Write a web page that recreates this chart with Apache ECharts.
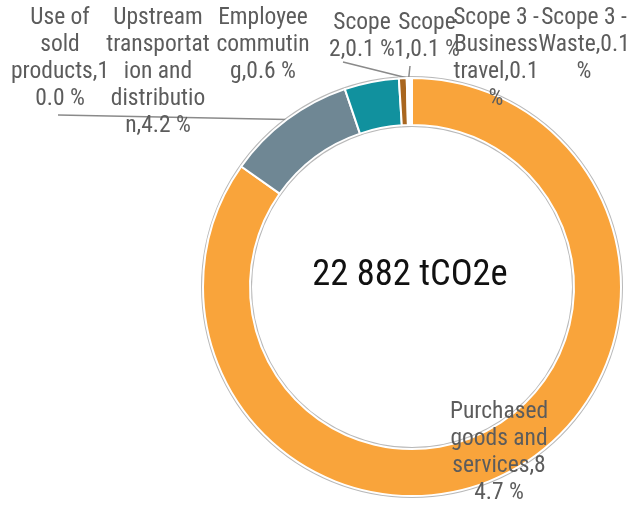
<!DOCTYPE html>
<html>
<head>
<meta charset="utf-8">
<script src="https://cdn.jsdelivr.net/npm/echarts@6/dist/echarts.min.js"></script>
<style>
  html, body { margin: 0; padding: 0; background: #fff; }
  #chart { width: 632px; height: 507px; }
</style>
</head>
<body>
<div id="chart"></div>
<script>
  // data
  const categories = [
    'Purchased goods and services',
    'Use of sold products',
    'Upstream transportation and distribution',
    'Employee commuting',
    'Scope 2',
    'Scope 1',
    'Scope 3 - Business travel',
    'Scope 3 - Waste'
  ];
  const shares = [84.7, 10.0, 4.2, 0.6, 0.1, 0.1, 0.1, 0.1];
  const totalText = '22 882 tCO2e';

  // styles
  const colors = ['#f9a43b', '#6f8794', '#11919e', '#a9661f', '#f3d9b0', '#f3d9b0', '#f3d9b0', '#f3d9b0'];
  const labelFont = "'Roboto Condensed', 'Liberation Sans Narrow', Roboto, sans-serif";
  const labelSize = 23.5;
  const wrapWidth = 104.5;

  // label placement: [centerX, top]
  const labelPos = [
    [499, 399], [60, 5], [158, 5], [263, 5], [362, 10], [427, 10], [496, 5], [584, 5]
  ];
  // label line end points (null = no line)
  const lineEnds = [null, [58, 115], null, null, [343, 62], [410, 66], null, null];

  const measureCtx = document.createElement('canvas').getContext('2d');
  measureCtx.font = labelSize + 'px ' + labelFont;
  const tw = s => measureCtx.measureText(s).width;

  // word wrap, breaking words that are too long on their own
  function wrap(text, maxW) {
    const words = text.split(' ');
    const lines = [];
    let line = '';
    words.forEach(w => {
      const cand = line ? line + ' ' + w : w;
      if (tw(cand) <= maxW) { line = cand; return; }
      if (line) lines.push(line);
      while (tw(w) > maxW) {
        let i = 1;
        while (i < w.length && tw(w.slice(0, i + 1)) <= maxW) i++;
        lines.push(w.slice(0, i));
        w = w.slice(i);
      }
      line = w;
    });
    if (line) lines.push(line);
    return lines.join('\n');
  }

  const pieData = categories.map((name, i) => ({
    name: name,
    value: shares[i],
    itemStyle: { color: colors[i] },
    labelLine: { show: !!lineEnds[i] }
  }));

  const myChart = echarts.init(document.getElementById('chart'));
  const option = {
    animation: false,
    graphic: [{
      type: 'text',
      x: 410,
      y: 276,
      style: {
        text: totalText,
        fill: '#111',
        font: "36.5px 'Roboto Condensed', 'Liberation Sans Narrow', Roboto, sans-serif",
        textAlign: 'center',
        textVerticalAlign: 'middle'
      },
      z: 100
    }],
    series: [
      {
        // thin grey outline round the ring
        type: 'pie',
        silent: true,
        center: [412, 287],
        radius: [160, 211],
        label: { show: false },
        labelLine: { show: false },
        itemStyle: { color: '#b9b9b9' },
        data: [{ value: 1, name: '' }],
        z: 1
      },
      {
        type: 'pie',
        center: [412, 287],
        radius: [162, 209],
        startAngle: 90,
        clockwise: true,
        avoidLabelOverlap: false,
        itemStyle: { borderColor: '#fff', borderWidth: 2 },
        label: {
          show: true,
          position: 'outside',
          color: '#5c5c5c',
          fontFamily: labelFont,
          fontSize: labelSize,
          lineHeight: 27,
          align: 'center',
          formatter: p => wrap(p.name + ',' + p.value.toFixed(1) + ' %', wrapWidth)
        },
        labelLine: {
          lineStyle: { color: '#8a8a8a', width: 1.5 }
        },
        labelLayout: function (params) {
          const i = params.dataIndex;
          const pos = labelPos[i];
          const res = {
            x: pos[0],
            y: pos[1],
            align: 'center',
            verticalAlign: 'top',
            hideOverlap: false
          };
          if (lineEnds[i] && params.labelLinePoints) {
            const start = params.labelLinePoints[0];
            res.labelLinePoints = [start, lineEnds[i], lineEnds[i]];
          }
          return res;
        },
        data: pieData,
        z: 2
      }
    ]
  };
  myChart.setOption(option);
</script>
</body>
</html>
